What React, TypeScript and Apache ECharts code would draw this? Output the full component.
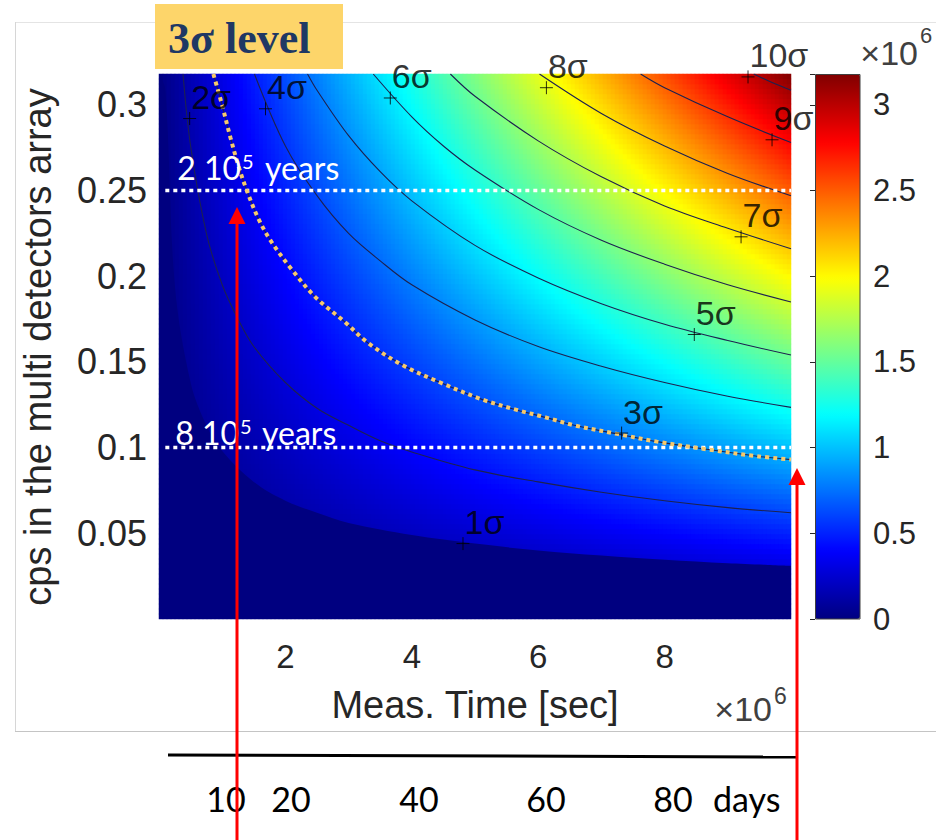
import React, { useEffect, useRef } from "react";
import * as echarts from "echarts";

// ---------- data ----------
// axes ranges: time in 10^6 s, count rate in cps, colour = total counts in 10^6
const timeRange = [0, 10];
const cpsRange = [0, 0.318];
const countRange = [0, 3.18];

// sampling of the colour field (counts = cps × time)
const NX = 158;
const NY = 109;
const timeCells = Array.from({ length: NX }, (_, i) => +(((i + 0.5) * (timeRange[1] - timeRange[0])) / NX).toFixed(4));
const cpsCells = Array.from({ length: NY }, (_, j) => +(((j + 0.5) * (cpsRange[1] - cpsRange[0])) / NY).toFixed(5));

// significance contours [time (1e6 s), cps]
const sigma1 = [[0, 0.318], [0.1, 0.309], [0.25, 0.195], [0.5, 0.138], [0.75, 0.113], [1, 0.098], [1.5, 0.08], [2, 0.069], [2.5, 0.062], [3, 0.056], [4, 0.049], [5, 0.044], [6, 0.04], [7, 0.037], [8, 0.0345], [9, 0.0325], [10, 0.031]];
const sigma2 = [[0.38, 0.318], [0.5, 0.276], [0.75, 0.225], [1, 0.195], [1.25, 0.175], [1.5, 0.159], [2, 0.138], [2.5, 0.123], [3, 0.113], [3.5, 0.104], [4, 0.0975], [5, 0.087], [6, 0.08], [7, 0.074], [8, 0.069], [9, 0.065], [10, 0.062]];
const sigma3 = [[0.86, 0.318], [0.99, 0.301], [1.13, 0.281], [1.26, 0.264], [1.4, 0.249], [1.58, 0.233], [1.78, 0.22], [2.1, 0.204], [2.47, 0.188], [2.95, 0.173], [3.31, 0.161], [3.86, 0.148], [4.45, 0.138], [5.12, 0.128], [5.66, 0.122], [6.13, 0.1175], [6.57, 0.113], [7.25, 0.108], [7.88, 0.1035], [8.67, 0.099], [9.46, 0.095], [10, 0.093]];
const sigma4 = [[1.51, 0.318], [2, 0.276], [2.5, 0.247], [3, 0.225], [3.5, 0.209], [4, 0.195], [5, 0.1745], [6, 0.159], [7, 0.1475], [8, 0.138], [9, 0.13], [10, 0.1235]];
const sigma5 = [[2.35, 0.318], [2.5, 0.3085], [3, 0.282], [3.5, 0.261], [4, 0.244], [5, 0.218], [6, 0.199], [7, 0.184], [8, 0.172], [9, 0.1625], [10, 0.154]];
const sigma6 = [[3.39, 0.318], [4, 0.293], [4.5, 0.276], [5, 0.262], [6, 0.239], [7, 0.221], [8, 0.207], [9, 0.195], [10, 0.185]];
const sigma7 = [[4.61, 0.318], [5, 0.305], [6, 0.279], [7, 0.258], [8, 0.241], [9, 0.228], [10, 0.216]];
const sigma8 = [[6.02, 0.318], [7, 0.295], [8, 0.276], [9, 0.26], [10, 0.247]];
const sigma9 = [[7.62, 0.318], [8, 0.31], [9, 0.293], [10, 0.278]];
const sigma10 = [[9.41, 0.318], [9.7, 0.313], [10, 0.3085]];

// contour labels with "+" marks
const sigmaNames = ["1σ", "2σ", "3σ", "4σ", "5σ", "6σ", "7σ", "8σ", "9σ", "10σ"];
const sigmaMarkTime = [4.81, 0.485, 7.32, 1.685, 8.47, 3.66, 9.21, 6.13, 9.7, 9.32];
const sigmaMarkCps = [0.044, 0.292, 0.1085, 0.2977, 0.166, 0.304, 0.223, 0.31, 0.2796, 0.3163];

// half-life reference levels
const halfLifeCps = [0.25, 0.1];
const dayLabels = ["10", "20", "40", "60", "80"];

const jet = ["#000080", "#0000ff", "#0080ff", "#00ffff", "#80ff80", "#ffff00", "#ff8000", "#ff0000", "#800000"];

const FONT = "'Liberation Sans', Arial, Helvetica, sans-serif";
const CAL = "Lato, 'Open Sans', sans-serif";

function buildOption() {
  const heat: number[][] = [];
  for (let i = 0; i < NX; i++) {
    for (let j = 0; j < NY; j++) {
      heat.push([i, j, timeCells[i] * cpsCells[j]]);
    }
  }
  const contourStyle = { color: "#1d2150", width: 1.1 };
  const contour = (name: string, data: number[][]) => ({
    type: "line",
    name,
    data,
    xAxisIndex: 0,
    yAxisIndex: 0,
    symbol: "none",
    smooth: 0.35,
    lineStyle: contourStyle,
    silent: true,
    z: 3,
  });

  const gText = (text: string, x: number, y: number, o: any = {}) => ({
    type: "text",
    x,
    y,
    z: 100,
    rotation: o.rotation || 0,
    style: {
      text,
      fill: o.fill || "#262626",
      fontSize: o.fontSize || 32,
      fontFamily: o.fontFamily || FONT,
      fontWeight: o.fontWeight || "normal",
      align: o.align || "left",
      verticalAlign: "middle",
    },
  });
  const gLine = (x1: number, y1: number, x2: number, y2: number, stroke: string, lineWidth: number) => ({
    type: "line",
    z: 100,
    shape: { x1, y1, x2, y2 },
    style: { stroke, lineWidth },
  });

  const dayX = [226, 291, 419, 546, 673];

  return {
    animation: false,
    backgroundColor: "#ffffff",
    grid: [
      { left: 159, top: 74, width: 632, height: 545 },
      { left: 815, top: 74, width: 45, height: 545 },
    ],
    xAxis: [
      {
        type: "value",
        gridIndex: 0,
        min: timeRange[0],
        max: timeRange[1],
        interval: 2,
        axisLine: { show: false },
        axisTick: { show: false },
        splitLine: { show: false },
        axisLabel: {
          fontSize: 33,
          fontFamily: FONT,
          color: "#262626",
          margin: 21,
          formatter: (v: number) => (v > 0 && v < 10 ? String(v) : ""),
        },
      },
      { type: "category", gridIndex: 0, data: timeCells, show: false, position: "top" },
      { type: "value", gridIndex: 1, min: 0, max: 1, show: false },
    ],
    yAxis: [
      {
        type: "value",
        gridIndex: 0,
        min: cpsRange[0],
        max: cpsRange[1],
        interval: 0.05,
        axisLine: { show: false },
        axisTick: { show: false },
        splitLine: { show: false },
        axisLabel: {
          fontSize: 36,
          fontFamily: FONT,
          color: "#262626",
          margin: 12,
          formatter: (v: number) => (v > 0.001 && v < 0.31 ? String(+v.toFixed(2)) : ""),
        },
      },
      { type: "category", gridIndex: 0, data: cpsCells, show: false, position: "right" },
      {
        type: "value",
        gridIndex: 1,
        min: countRange[0],
        max: countRange[1],
        interval: 0.5,
        position: "right",
        axisLine: { show: false },
        axisTick: { show: true, inside: true, length: 5, lineStyle: { color: "#262626" } },
        splitLine: { show: false },
        axisLabel: {
          fontSize: 31,
          fontFamily: FONT,
          color: "#262626",
          margin: 13,
          formatter: (v: number) => (Math.abs(v * 2 - Math.round(v * 2)) < 1e-6 ? String(+v.toFixed(1)) : ""),
        },
      },
    ],
    visualMap: [
      {
        type: "continuous",
        seriesIndex: 0,
        dimension: 2,
        min: countRange[0],
        max: countRange[1],
        calculable: false,
        hoverLink: false,
        left: 815,
        top: 74,
        itemWidth: 45,
        itemHeight: 545,
        padding: 0,
        inRange: { color: jet },
      },
    ],
    series: [
      {
        type: "heatmap",
        xAxisIndex: 1,
        yAxisIndex: 1,
        data: heat,
        progressive: 0,
        silent: true,
        itemStyle: { borderWidth: 0 },
        emphasis: { disabled: true },
      },
      {
        type: "line",
        name: "1σ",
        data: sigma1,
        xAxisIndex: 0,
        yAxisIndex: 0,
        symbol: "none",
        smooth: 0.35,
        lineStyle: { width: 0, color: "#000080" },
        areaStyle: { color: "#000080", opacity: 1 },
        silent: true,
        z: 3,
      },
      contour("2σ", sigma2),
      contour("4σ", sigma4),
      contour("5σ", sigma5),
      contour("6σ", sigma6),
      contour("7σ", sigma7),
      contour("8σ", sigma8),
      contour("9σ", sigma9),
      contour("10σ", sigma10),
      contour("3σ", sigma3),
      ...halfLifeCps.map((c) => ({
        type: "line",
        data: [[0.1, c], [10, c]],
        xAxisIndex: 0,
        yAxisIndex: 0,
        symbol: "none",
        lineStyle: { color: "#ffffff", width: 3.5, type: [4, 4] },
        silent: true,
        z: 4,
      })),
      {
        type: "line",
        name: "3σ level",
        data: sigma3,
        xAxisIndex: 0,
        yAxisIndex: 0,
        symbol: "none",
        smooth: 0.35,
        lineStyle: { color: "#f6c96c", width: 4, type: [4, 4] },
        silent: true,
        z: 5,
      },
      {
        type: "scatter",
        xAxisIndex: 0,
        yAxisIndex: 0,
        data: sigmaNames.map((n, i) => ({ name: n, value: [sigmaMarkTime[i], sigmaMarkCps[i]] })),
        symbol: "path://M0,7H14M7,0V14",
        symbolSize: 13,
        itemStyle: { color: "transparent", borderColor: "#000000", borderWidth: 1 },
        label: {
          show: true,
          formatter: "{b}",
          position: [8.5, -14.5],
          align: "left",
          verticalAlign: "middle",
          fontSize: 34,
          fontFamily: FONT,
          color: "#000000",
        },
        silent: true,
        z: 6,
      },
      { type: "line", xAxisIndex: 2, yAxisIndex: 2, data: [] },
    ],
    graphic: [
      // slide frame
      gLine(15, 22.5, 936, 22.5, "#e4e4e4", 1),
      gLine(15.5, 22, 15.5, 731, "#d6d6d6", 1),
      gLine(15, 731.5, 936, 731.5, "#c4c4c4", 1),
      // title box
      { type: "rect", z: 101, shape: { x: 155, y: 4, width: 188, height: 65 }, style: { fill: "#fdd56a" } },
      { ...gText("3σ level", 168, 38.5, { fontSize: 44, fontWeight: "bold", fontFamily: "'Liberation Serif', 'Times New Roman', serif", fill: "#1f3864" }), z: 102 },
      // colour bar frame
      { type: "rect", z: 100, shape: { x: 815.5, y: 74.5, width: 44.5, height: 544.5 }, style: { fill: "none", stroke: "#404040", lineWidth: 1 } },
      // axis titles
      gText("Meas. Time [sec]", 475, 705, { fontSize: 38, align: "center" }),
      gText("cps in the multi detectors array", 38, 347, { fontSize: 38, align: "center", rotation: Math.PI / 2 }),
      // exponent labels
      gText("×10", 772, 709, { fontSize: 34, align: "right", fill: "#404040" }),
      gText("6", 774, 696, { fontSize: 23, fill: "#404040" }),
      gText("×10", 918, 53, { fontSize: 34, align: "right", fill: "#404040" }),
      gText("6", 920, 35, { fontSize: 22, fill: "#404040" }),
      // half-life labels
      gText("2 10", 241, 167, { fontSize: 32, align: "right", fontFamily: CAL, fill: "#ffffff" }),
      gText("5", 242, 161, { fontSize: 20, fontFamily: CAL, fill: "#ffffff" }),
      gText("years", 265, 167, { fontSize: 32, fontFamily: CAL, fill: "#ffffff" }),
      gText("8 10", 239, 432, { fontSize: 32, align: "right", fontFamily: CAL, fill: "#ffffff" }),
      gText("5", 240, 426, { fontSize: 20, fontFamily: CAL, fill: "#ffffff" }),
      gText("years", 262, 432, { fontSize: 32, fontFamily: CAL, fill: "#ffffff" }),
      // days scale
      gLine(168, 755, 798, 757, "#000000", 3),
      ...dayLabels.map((d, i) => gText(d, dayX[i], 798, { fontSize: 34, align: "center", fontFamily: CAL, fill: "#000000" })),
      gText("days", 713, 798, { fontSize: 34, fontFamily: CAL, fill: "#000000" }),
      // red arrows
      gLine(237, 840, 237, 222, "#ff0000", 3),
      { type: "polygon", z: 100, shape: { points: [[228.5, 224], [245.5, 224], [237, 207]] }, style: { fill: "#ff0000" } },
      gLine(797, 840, 797, 483, "#ff0000", 3),
      { type: "polygon", z: 100, shape: { points: [[788.5, 485], [805.5, 485], [797, 468]] }, style: { fill: "#ff0000" } },
    ],
  };
}

export default function App() {
  const ref = useRef<HTMLDivElement>(null);
  useEffect(() => {
    if (!ref.current) return;
    const chart = echarts.init(ref.current, undefined, { renderer: "svg" });
    chart.setOption(buildOption() as any);
    return () => chart.dispose();
  }, []);
  return <div ref={ref} style={{ position: "absolute", left: 0, top: 0, width: 936, height: 840 }} />;
}
